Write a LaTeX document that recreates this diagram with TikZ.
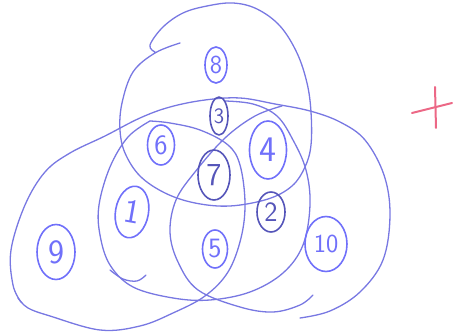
\documentclass[tikz,border=0pt]{standalone}
\usetikzlibrary{shapes.geometric}
\definecolor{pen}{RGB}{120,120,226}
\definecolor{pendark}{RGB}{85,85,185}
\definecolor{ink}{RGB}{112,112,250}
\definecolor{redpen}{RGB}{236,104,134}
\begin{document}
\begin{tikzpicture}[x=1pt,y=-1pt,line cap=round,line join=round,
  stroke/.style={draw=pen,line width=1.3pt},
  num/.style={ellipse,draw=ink,line width=1.6pt,text=ink,inner sep=0pt,
    font=\sffamily\fontsize{28}{28}\selectfont},
  numdark/.style={num,draw=pendark,text=pendark}]
\useasboundingbox (0,0) rectangle (453,336);
% top circle
\draw[stroke] plot[smooth,tension=0.6] coordinates {(155,52) (150,45) (163,27) (183,13) (207,6) (233,3) (257,9) (280,26) (297,53) (307,83) (311,112) (311,145) (305,167) (292,186) (268,199) (230,206) (195,203) (165,193) (140,176) (125,153) (120,130) (122,103) (133,72) (155,53) (180,43)};
% right circle, top band and left blob
\draw[stroke] plot[smooth,tension=0.6] coordinates {(300,318) (330,311) (360,292) (383,260) (390,215) (384,175) (365,140) (340,122) (310,111) (275,104) (240,98) (205,100) (170,107) (140,118) (105,136) (70,153) (45,172) (25,205) (11,250) (13,285) (21,302)};
\draw[stroke] plot[smooth,tension=0.6] coordinates {(18,298) (28,308) (50,316) (100,330) (140,326) (173,313) (205,296) (228,272) (241,238) (245,203) (240,165) (228,145) (200,130) (170,123) (150,121)};
% ellipse round 1
\draw[stroke] plot[smooth,tension=0.6] coordinates {(150,121) (128,137) (110,167) (99,205) (100,235) (110,265) (133,287) (173,298) (210,300) (250,292) (283,273) (303,245) (310,205) (306,170) (293,140) (277,116) (253,104) (225,101)};
% ellipse round 5
\draw[stroke] plot[smooth,tension=0.6] coordinates {(282,106) (255,116) (225,138) (195,172) (176,200) (170,232) (178,262) (198,290) (240,307) (273,312) (300,305) (313,295)};
% small arc under 1
\draw[stroke] plot[smooth,tension=0.6] coordinates {(110,270) (123,279) (137,281) (146,275)};
% numbers
\node[num,minimum width=22pt,minimum height=36pt,font=\sffamily\fontsize{26}{26}\selectfont] (n8) at (216,65) {8};
\node[numdark,minimum width=18pt,minimum height=38pt,font=\sffamily\fontsize{22}{22}\selectfont] (n3) at (219,116) {3};
\node[num,minimum width=27pt,minimum height=40pt] (n6) at (161,145) {6};
\node[num,minimum width=37pt,minimum height=58pt,font=\sffamily\fontsize{36}{36}\selectfont] (n4) at (268,150) {4};
\node[numdark,minimum width=32pt,minimum height=50pt,font=\sffamily\fontsize{32}{32}\selectfont] (n7) at (214,175) {7};
\node[num,minimum width=33pt,minimum height=52pt,rotate=-10,font=\sffamily\fontsize{34}{34}\selectfont] (n1) at (132,212) {1};
\node[numdark,minimum width=28pt,minimum height=40pt] (n2) at (271,212) {2};
\node[num,minimum width=25pt,minimum height=38pt] (n5) at (215,249) {5};
\node[num,minimum width=38pt,minimum height=55pt,font=\sffamily\fontsize{34}{34}\selectfont] (n9) at (56,252) {9};
\node[num,minimum width=42pt,minimum height=55pt,font=\sffamily\fontsize{26}{26}\selectfont] (n10) at (326,244) {10};
% red plus
\coordinate (pt) at (435,87);
\coordinate (pb) at (436,128);
\coordinate (pl) at (412,113);
\coordinate (pr) at (452,103);
\draw[draw=redpen,line width=2pt] (pt) -- (pb);
\draw[draw=redpen,line width=2pt] (pl) -- (pr);
\end{tikzpicture}
\end{document}
